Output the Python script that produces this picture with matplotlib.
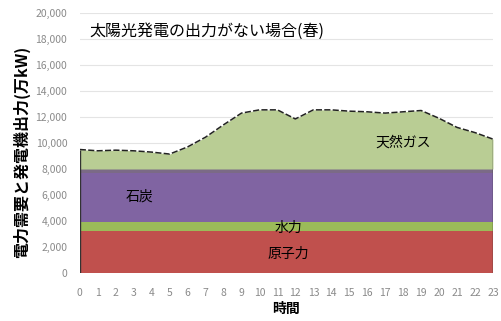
import matplotlib
matplotlib.use("Agg")
import matplotlib.pyplot as plt
import numpy as np

plt.rcParams['font.family'] = ['Noto Sans CJK JP', 'DejaVu Sans']

# 時間と電力需要 (万kW)
hours = list(range(24))
demand = [9500, 9400, 9450, 9400, 9300, 9150, 9700, 10450, 11400, 12300, 12550, 12550,
          11850, 12550, 12550, 12450, 12400, 12300, 12400, 12500, 11900, 11200, 10800, 10300]

# 各電源の出力 (万kW)
nuclear = [3200] * 24
hydro = [700] * 24
coal = [3800] * 24
oil = [300] * 24

c_nuclear = '#c0504d'
c_hydro = '#9bbb59'
c_coal = '#8064a2'
c_oil = '#7b6a86'
c_gas = '#b9cd94'

h = np.array(hours)
base1 = np.array(nuclear)
base2 = base1 + np.array(hydro)
base3 = base2 + np.array(coal)
base4 = base3 + np.array(oil)
dem = np.array(demand)

fig = plt.figure(figsize=(5.02, 3.21), dpi=100)
ax = fig.add_axes([0.159, 0.1495, 0.823, 0.81])

ax.fill_between(h, 0, base1, color=c_nuclear, lw=0)
ax.fill_between(h, base1, base2, color=c_hydro, lw=0)
ax.fill_between(h, base2, base3, color=c_coal, lw=0)
ax.fill_between(h, base3, base4, color=c_oil, lw=0)
ax.fill_between(h, base4, dem, color=c_gas, lw=0)
ax.plot(h, dem, color='#222222', lw=1.1, ls=(0, (4, 1.5)))
ax.vlines([0, 23], 0, [demand[0], demand[-1]], color='#333333', lw=1)

ax.set_xlim(0, 23)
ax.set_ylim(0, 20000)
ax.set_xticks(hours)
ax.set_yticks(range(0, 20001, 2000))
ax.set_yticklabels([f'{v:,}' for v in range(0, 20001, 2000)])
ax.tick_params(axis='both', length=0, labelsize=7.5, colors='#8a8a8a')
ax.tick_params(axis='x', pad=11)
ax.tick_params(axis='y', pad=9)
ax.grid(axis='y', color='#e4e4e4', lw=0.8)
ax.set_axisbelow(True)
for s in ax.spines.values():
    s.set_visible(False)

ax.set_xlabel('時間', fontsize=10, fontweight='bold', labelpad=3)
fig.text(21 / 502, 1 - 152 / 321, '電力需要と発電機出力(万kW)', fontsize=11.5,
         fontweight='bold', rotation=90, ha='center', va='center')

ax.text(0.55, 18600, '太陽光発電の出力がない場合(春)', fontsize=11.5, va='center', ha='left')
ax.text(18.0, 10050, '天然ガス', fontsize=10, ha='center', va='center')
ax.text(3.3, 5900, '石炭', fontsize=10, ha='center', va='center')
ax.text(11.6, 3500, '水力', fontsize=10, ha='center', va='center')
ax.text(11.6, 1500, '原子力', fontsize=10, ha='center', va='center')

fig.savefig('out.png', dpi=100)
